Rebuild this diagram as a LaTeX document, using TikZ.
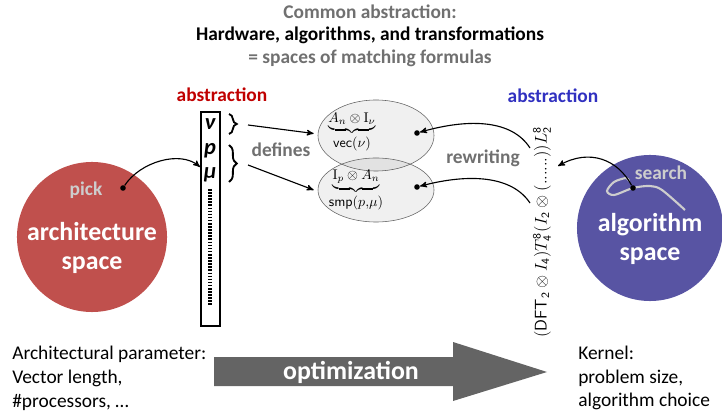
\documentclass[tikz,border=0pt]{standalone}
\usepackage[no-math]{fontspec}
\setmainfont{Carlito}
\usetikzlibrary{arrows}
\usetikzlibrary{shapes}
\usetikzlibrary{calc}
\usetikzlibrary{positioning}
\usetikzlibrary{decorations.pathreplacing}
\definecolor{archred}{RGB}{192,80,77}
\definecolor{algblue}{RGB}{88,84,163}
\definecolor{absred}{RGB}{192,0,0}
\definecolor{absblue}{RGB}{48,48,192}
\definecolor{txtgray}{RGB}{112,112,112}
\definecolor{optgray}{RGB}{100,100,100}
\definecolor{softgray}{RGB}{205,205,205}
\newcommand\Lsize{\fontsize{13.8}{16}\selectfont}
\newcommand\Bsize{\fontsize{18.4}{21}\selectfont}

\begin{document}
\begin{tikzpicture}[x=0.025cm, y=-0.025cm,
-,>=stealth',
lbl/.style = {font=\bfseries\Lsize, inner sep=0pt},
lbl_g/.style = {lbl, text=txtgray},
lbl_s/.style = {lbl, text=softgray},
big_w/.style = {font=\bfseries\Bsize, text=white, inner sep=0pt, align=center},
par_l/.style = {font=\bfseries\itshape\fontsize{16}{18}\selectfont, inner sep=0pt},
space_c/.style = {circle, inner sep=0pt},
set_e/.style = {ellipse, draw=optgray, fill=black, fill opacity=0.06, inner sep=0pt},
blob/.style = {circle, fill=black, inner sep=0pt, minimum size=0.14cm},
brc/.style = {decorate, decoration={brace, amplitude=5.5pt}, line width=1.3pt},
link/.style = {->, thick},
note/.style = {anchor=west, align=left, inner sep=0pt, font=\fontsize{13.8}{17}\selectfont}
]
\useasboundingbox (0,0) rectangle (722,418);

% title
\node (t1) [lbl_g] at (370,12) {Common abstraction:};
\node (t2) [lbl] at (370,35) {Hardware, algorithms, and transformations};
\node (t3) [lbl_g] at (370,58) {= spaces of matching formulas};

\node (absr) [lbl, text=absred] at (222,95) {abstraction};
\node (absb) [lbl, text=absblue] at (553,96) {abstraction};

% the two spaces
\node (arch) [space_c, fill=archred, minimum size=3.75cm] at (92,237) {};
\node (alg) [space_c, fill=algblue, minimum size=3.65cm] at (650,228) {};
\node (pick) [lbl_s] at (86,190) {pick};
\node (archt) [big_w] at (92,248) {architecture\\space};
\node (search) [lbl_s] at (661,173) {search};
\node (algt) [big_w] at (650,239) {algorithm\\space};

% parameter vector
\node (param) [draw, line width=1.4pt, minimum width=0.475cm, minimum height=5.35cm, inner sep=0pt] at (210.5,219) {};
\node (nu) [par_l] at (210,124) {ν};
\node (pp) [par_l] at (210,151) {p};
\node (mu) [par_l] at (210,175) {μ};
\draw[line width=2.2pt, dash pattern=on 1.1pt off 1.1pt] (210,189) -- (210,306);

\draw[brc] (229,114) -- (229,134);
\draw[brc] (229,145) -- (229,182);
\coordinate (b1) at (248,125);
\coordinate (b2) at (248,165);
\node (def) [lbl_g] at (281,150) {defines};

% matching formulas
\node (setv) [set_e, minimum width=2.9cm, minimum height=1.775cm] at (376,135.5) {};
\node (sets) [set_e, minimum width=2.9cm, minimum height=1.6cm] at (376,190) {};
\node (fv) [inner sep=0pt, font=\fontsize{10}{12}\selectfont] at (352,133) {$\underbrace{A_n\otimes \mathrm{I}_\nu}_{\textstyle\mathsf{vec}(\nu)}$};
\node (fs) [inner sep=0pt, font=\fontsize{10}{12}\selectfont] at (356,191) {$\underbrace{\mathrm{I}_p\otimes A_n}_{\textstyle\mathsf{smp}(p{,}\mu)}$};
\node (dv) [blob] at (417,133) {};
\node (ds) [blob] at (417,187) {};

\draw[link] (b1) -- ($(setv.west)+(-4,-2)$);
\draw[link] (b2) -- ($(sets.west)+(-4,0)$);

% algorithm formula
\node (rule) [rotate=90, anchor=west, inner sep=0pt, font=\fontsize{11.8}{13}\selectfont] at (542,338)
  {$(\mathsf{DFT}_{\mathsf{2}}\otimes I_{\mathsf{4}})T^{\mathsf{8}}_{\mathsf{4}}(I_{\mathsf{2}}\otimes(......))L^{\mathsf{8}}_{\mathsf{2}}$};
\coordinate (r1) at (530,148);
\coordinate (r2) at (530,203);
\node (rew) [lbl_g] at (483,158) {rewriting};
\draw[link] (r1) .. controls (512,120) and (470,118) .. (dv);
\draw[link] (r2) .. controls (512,176) and (470,173) .. (ds);

% pick and search
\node (pdot) [blob] at (123,188) {};
\coordinate (pin) at (200,167);
\draw[link] (pdot) .. controls (140,162) and (180,150) .. (pin);

\draw[softgray, line width=1.5pt] plot[smooth] coordinates {(685,210) (662,190) (650,186) (633,188) (614,195) (607,191) (614,182) (626,178) (629,181)};
\node (sdot) [blob] at (633,188) {};
\coordinate (sin) at (558,166);
\draw[link] (sdot) .. controls (618,160) and (590,148) .. (sin);

% optimization
\fill[optgray] (214,357) -- (453,357) -- (453,342) -- (547,372) -- (453,401) -- (453,386) -- (214,386) -- cycle;
\node (opt) [big_w] at (351,372) {optimization};
\node (archp) [note] at (12,378) {Architectural parameter:\\Vector length,\\\#processors, \dots};
\node (kern) [note] at (578,378) {Kernel:\\problem size,\\algorithm choice};
\end{tikzpicture}
\end{document}
